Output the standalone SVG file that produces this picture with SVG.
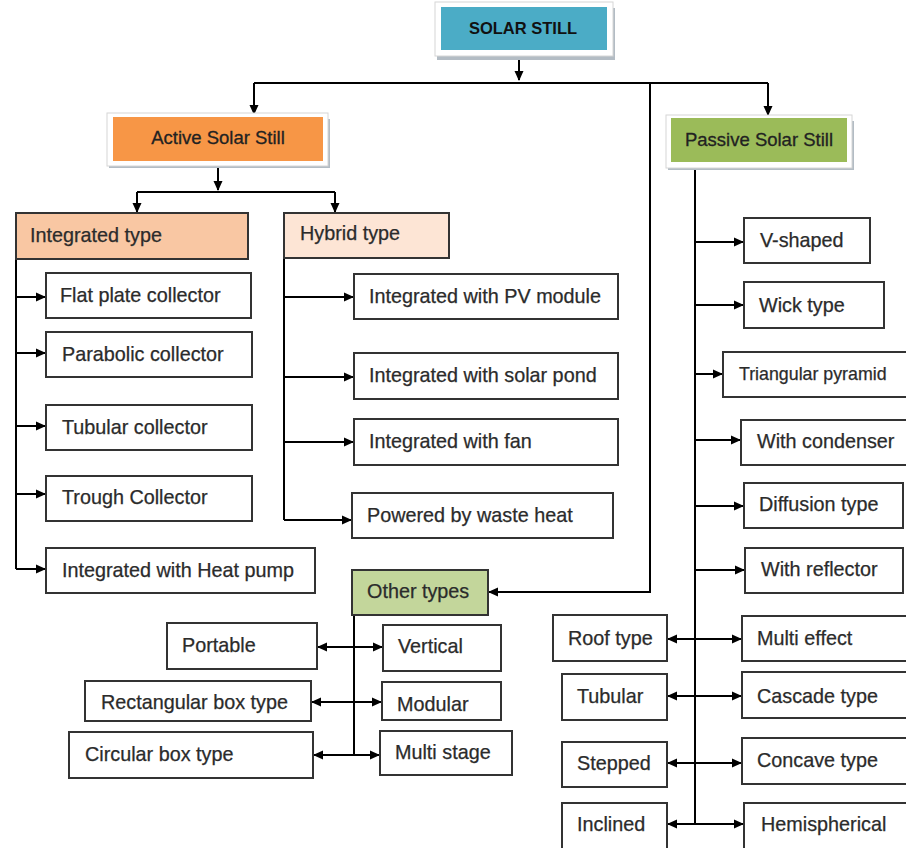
<svg xmlns="http://www.w3.org/2000/svg" width="906" height="848" viewBox="0 0 906 848">
<defs>
<marker id="ah" markerUnits="userSpaceOnUse" markerWidth="10" markerHeight="10" viewBox="0 0 10 10" refX="9" refY="5" orient="auto-start-reverse"><path d="M0,0.5 L10,5 L0,9.5 Z" fill="#000"/></marker>
<style>
.bx{fill:#fff;stroke:#333;stroke-width:2}
.t{font-family:"Liberation Sans",Arial,sans-serif;font-size:19.8px;fill:#2b2b2b;stroke:#2b2b2b;stroke-width:0.25}
.h{font-family:"Liberation Sans",Arial,sans-serif;font-size:18.5px;fill:#222;stroke:#222;stroke-width:0.3}
.frame{fill:#fff;stroke:#d6d6d6;stroke-width:1}
.shadow{fill:#b3bcc4}
.c{fill:none;stroke:#000;stroke-width:2}
.a{fill:none;stroke:#000;stroke-width:2;marker-end:url(#ah)}
.d{fill:none;stroke:#000;stroke-width:2;marker-start:url(#ah);marker-end:url(#ah)}
</style>
</defs>
<rect width="906" height="848" fill="#fff"/>

<g id="connectors">
<path class="a" d="M519,52 V80"/>
<path class="c" d="M254,83 H768"/>
<path class="a" d="M254,83 V114"/>
<path class="a" d="M768,83 V115"/>
<path class="a" d="M650,83 V592 H489"/>
<path class="a" d="M218,161 V190"/>
<path class="c" d="M137,192 H335"/>
<path class="a" d="M137,192 V212"/>
<path class="a" d="M335,192 V212"/>
<path class="c" d="M16,259 V569"/>
<path class="a" d="M16,297 H45"/>
<path class="a" d="M16,353 H45"/>
<path class="a" d="M16,426 H45"/>
<path class="a" d="M16,494 H45"/>
<path class="a" d="M16,569 H45"/>
<path class="c" d="M284,258 V520"/>
<path class="a" d="M284,297 H353"/>
<path class="a" d="M284,377 H353"/>
<path class="a" d="M284,442 H353"/>
<path class="a" d="M284,520 H351"/>
<path class="c" d="M354,615 V755"/>
<path class="d" d="M318,647 H382"/>
<path class="d" d="M312,702 H381"/>
<path class="d" d="M314,755 H379"/>
<path class="c" d="M695,163 V824"/>
<path class="a" d="M695,242 H743"/>
<path class="a" d="M695,305 H743"/>
<path class="a" d="M695,374 H722"/>
<path class="a" d="M695,440 H740"/>
<path class="a" d="M695,506 H743"/>
<path class="a" d="M695,570 H744"/>
<path class="d" d="M668,639 H741"/>
<path class="d" d="M668,696 H741"/>
<path class="d" d="M668,763 H741"/>
<path class="d" d="M668,824 H743"/>
</g>

<g id="solar-still">
<rect class="shadow" x="437" y="8" width="178" height="52"/>
<rect class="frame" x="435" y="2" width="178" height="54"/>
<rect x="441" y="7" width="166" height="43" fill="#4BACC6"/>
<text x="523" y="34" text-anchor="middle" font-family="'Liberation Sans',Arial,sans-serif" font-size="16.5" font-weight="bold" fill="#111">SOLAR STILL</text>
</g>

<g id="active">
<rect class="shadow" x="109" y="119" width="221" height="49"/>
<rect class="frame" x="107" y="113" width="221" height="53"/>
<rect x="113" y="117" width="210" height="44" fill="#F79646"/>
<text class="h" x="218" y="144" text-anchor="middle">Active Solar Still</text>
</g>

<g id="passive">
<rect class="shadow" x="668" y="121" width="186" height="49"/>
<rect class="frame" x="666" y="115" width="186" height="53"/>
<rect x="671" y="118" width="176" height="44" fill="#9BBB59"/>
<text class="h" x="759" y="146" text-anchor="middle">Passive Solar Still</text>
</g>

<g id="integrated-type"><rect class="bx" x="16" y="213" width="232" height="46" style="fill:#F9C7A3"/><text class="t" x="30" y="242">Integrated type</text></g>
<g id="hybrid-type"><rect class="bx" x="284" y="213" width="165" height="45" style="fill:#FDE5D5"/><text class="t" x="300" y="240">Hybrid type</text></g>

<g id="flat-plate"><rect class="bx" x="46" y="273" width="205" height="45"/><text class="t" x="60" y="302">Flat plate collector</text></g>
<g id="parabolic"><rect class="bx" x="46" y="332" width="206" height="45"/><text class="t" x="62" y="361">Parabolic collector</text></g>
<g id="tubular-collector"><rect class="bx" x="46" y="405" width="206" height="45"/><text class="t" x="62" y="434">Tubular collector</text></g>
<g id="trough"><rect class="bx" x="46" y="476" width="206" height="45"/><text class="t" x="62" y="504">Trough Collector</text></g>
<g id="heat-pump"><rect class="bx" x="46" y="548" width="269" height="45"/><text class="t" x="62" y="577">Integrated with Heat pump</text></g>

<g id="pv"><rect class="bx" x="354" y="274" width="264" height="45"/><text class="t" x="369" y="303">Integrated with PV module</text></g>
<g id="solar-pond"><rect class="bx" x="354" y="353" width="264" height="46"/><text class="t" x="369" y="382">Integrated with solar pond</text></g>
<g id="fan"><rect class="bx" x="354" y="419" width="264" height="46"/><text class="t" x="369" y="448">Integrated with fan</text></g>
<g id="waste-heat"><rect class="bx" x="352" y="493" width="261" height="45"/><text class="t" x="367" y="522">Powered by waste heat</text></g>

<g id="other-types"><rect class="bx" x="352" y="570" width="136" height="45" style="fill:#C3D69B"/><text class="t" x="367" y="598">Other types</text></g>
<g id="portable"><rect class="bx" x="167" y="623" width="150" height="46"/><text class="t" x="182" y="652">Portable</text></g>
<g id="vertical"><rect class="bx" x="383" y="625" width="118" height="46"/><text class="t" x="398" y="653">Vertical</text></g>
<g id="rectangular"><rect class="bx" x="85" y="681" width="226" height="40"/><text class="t" x="101" y="709">Rectangular box type</text></g>
<g id="modular"><rect class="bx" x="382" y="682" width="119" height="38"/><text class="t" x="397" y="711">Modular</text></g>
<g id="circular"><rect class="bx" x="69" y="732" width="244" height="46"/><text class="t" x="85" y="761">Circular box type</text></g>
<g id="multi-stage"><rect class="bx" x="380" y="731" width="132" height="44"/><text class="t" x="395" y="759">Multi stage</text></g>

<g id="v-shaped"><rect class="bx" x="744" y="218" width="126" height="45"/><text class="t" x="760" y="247">V-shaped</text></g>
<g id="wick"><rect class="bx" x="744" y="282" width="140" height="46"/><text class="t" x="759" y="312">Wick type</text></g>
<g id="triangular"><rect class="bx" x="723" y="352" width="190" height="45"/><text class="t" x="739" y="380" style="font-size:17.8px">Triangular pyramid</text></g>
<g id="condenser"><rect class="bx" x="741" y="420" width="172" height="45"/><text class="t" x="757" y="448">With condenser</text></g>
<g id="diffusion"><rect class="bx" x="744" y="483" width="159" height="45"/><text class="t" x="759" y="511">Diffusion type</text></g>
<g id="reflector"><rect class="bx" x="745" y="548" width="158" height="45"/><text class="t" x="761" y="576">With reflector</text></g>

<g id="roof"><rect class="bx" x="553" y="615" width="114" height="46"/><text class="t" x="568" y="645">Roof type</text></g>
<g id="multi-effect"><rect class="bx" x="742" y="616" width="172" height="45"/><text class="t" x="757" y="645">Multi effect</text></g>
<g id="tubular"><rect class="bx" x="562" y="674" width="105" height="46"/><text class="t" x="577" y="703">Tubular</text></g>
<g id="cascade"><rect class="bx" x="742" y="672" width="172" height="46"/><text class="t" x="757" y="703">Cascade type</text></g>
<g id="stepped"><rect class="bx" x="562" y="742" width="105" height="45"/><text class="t" x="577" y="770">Stepped</text></g>
<g id="concave"><rect class="bx" x="742" y="738" width="172" height="46"/><text class="t" x="757" y="767">Concave type</text></g>
<g id="inclined"><rect class="bx" x="562" y="803" width="105" height="46"/><text class="t" x="577" y="831">Inclined</text></g>
<g id="hemispherical"><rect class="bx" x="744" y="803" width="170" height="46"/><text class="t" x="761" y="831">Hemispherical</text></g>
</svg>
